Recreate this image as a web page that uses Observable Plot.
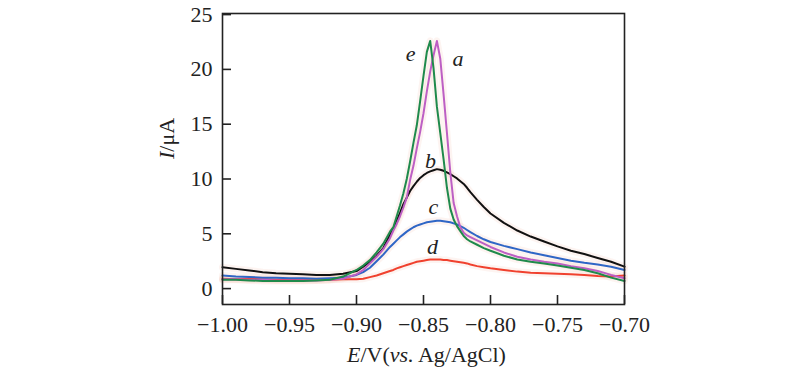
<!DOCTYPE html>
<html><head><meta charset="utf-8">
<script src="https://cdn.jsdelivr.net/npm/d3@7"></script>
<script src="https://cdn.jsdelivr.net/npm/@observablehq/plot@0.6"></script>
<style>body{margin:0;background:#fff}#chart svg{display:block}</style>
</head><body><div id="chart"></div>
<script>
// Potential grid (V vs. Ag/AgCl)
const potential = [-1.00,-0.99,-0.98,-0.97,-0.96,-0.95,-0.94,-0.93,-0.92,-0.91,-0.90,
 -0.895,-0.89,-0.885,-0.88,-0.875,
 -0.8725,-0.87,-0.8675,-0.865,-0.8625,-0.86,-0.8575,-0.855,-0.8525,-0.85,-0.8475,-0.845,-0.8425,-0.84,-0.8375,-0.835,-0.8325,-0.83,-0.8275,-0.825,-0.8225,-0.82,-0.8175,
 -0.815,-0.81,-0.805,-0.80,
 -0.79,-0.78,-0.77,-0.76,-0.75,-0.74,-0.73,-0.72,-0.71,-0.70];

// Currents (µA)
const curveA = [0.85,0.85,0.8,0.8,0.75,0.75,0.75,0.75,0.8,0.9,1.3,
 1.7,2.3,2.9,3.6,4.6,
 5.3,5.9,6.6,7.4,8.3,9.9,11.2,12.8,14.3,16.0,18.0,19.8,21.3,22.6,21.0,17.7,14.2,10.6,7.8,6.6,5.6,5.1,4.85,
 4.7,4.4,4.1,3.8,
 3.3,2.9,2.65,2.45,2.3,2.05,1.85,1.6,1.25,0.95];
const curveB = [1.95,1.8,1.65,1.5,1.4,1.35,1.3,1.25,1.25,1.35,1.6,
 2.0,2.45,3.0,3.7,4.9,
 5.5,6.2,6.9,7.7,8.3,8.9,9.35,9.75,10.1,10.35,10.55,10.7,10.8,10.9,10.85,10.75,10.6,10.45,10.25,10.05,9.8,9.55,9.2,
 8.8,8.1,7.45,6.85,
 6.0,5.3,4.75,4.3,3.85,3.45,3.15,2.8,2.45,2.0];
const curveC = [1.2,1.1,1.05,1.0,1.0,0.95,0.95,0.9,0.95,1.0,1.25,
 1.5,1.9,2.5,3.1,3.8,
 4.1,4.4,4.7,4.95,5.2,5.4,5.6,5.75,5.85,5.95,6.05,6.1,6.15,6.2,6.2,6.15,6.1,6.05,5.95,5.85,5.7,5.55,5.35,
 5.15,4.8,4.5,4.25,
 3.9,3.6,3.3,3.05,2.8,2.55,2.35,2.2,2.0,1.7];
const curveD = [0.9,0.85,0.9,0.85,0.8,0.8,0.8,0.8,0.8,0.85,0.85,
 0.9,1.05,1.2,1.4,1.6,
 1.7,1.85,1.95,2.05,2.15,2.25,2.35,2.45,2.5,2.55,2.6,2.65,2.65,2.65,2.65,2.6,2.6,2.55,2.5,2.45,2.4,2.35,2.3,
 2.2,2.05,1.95,1.85,
 1.7,1.55,1.45,1.4,1.35,1.3,1.25,1.15,1.1,1.2];
const curveE = [0.8,0.8,0.75,0.7,0.7,0.7,0.7,0.75,0.8,1.1,1.7,
 2.1,2.6,3.3,4.1,5.2,
 5.6,6.6,7.6,8.7,10.0,11.6,13.3,14.9,17.1,19.4,21.6,22.6,20.1,16.6,14.2,11.8,9.2,7.3,6.3,5.7,5.25,4.8,4.5,
 4.3,4.0,3.7,3.45,
 3.0,2.65,2.45,2.3,2.1,1.9,1.7,1.4,1.0,0.7];

const seriesNames = ["d","c","b","a","e"];
const seriesColors = ["#f0412e","#2f66c6","#111111","#bd5fc4","#1f8a4c"];
const seriesValues = [curveD, curveC, curveB, curveA, curveE];

const xTicks = [-1.00,-0.95,-0.90,-0.85,-0.80,-0.75,-0.70];
const yTicks = [0,5,10,15,20,25];

const labelText = ["e","a","b","c","d"];
const labelX = [-0.8597,-0.8243,-0.8448,-0.8426,-0.8433];
const labelY = [21.44,20.99,11.68,7.48,3.83];

const xTitle = "E/V(vs. Ag/AgCl)";
const yTitle = "I/μA";

const rows = [];
seriesNames.forEach((s, k) => {
  potential.forEach((e, i) => rows.push({E: e, I: seriesValues[k][i], s}));
});
const labels = labelText.map((t, i) => ({t, x: labelX[i], y: labelY[i]}));

const plot = Plot.plot({
  width: 800,
  height: 383,
  marginLeft: 222,
  marginRight: 176,
  marginTop: 13,
  marginBottom: 79,
  style: {fontFamily: "'Liberation Serif','Times New Roman',serif", fontSize: "22px", color: "#222", background: "#fff"},
  x: {domain: [-1.0, -0.7], label: null},
  y: {domain: [-1.45, 25.1], label: null},
  color: {domain: seriesNames, range: seriesColors},
  marks: [
    Plot.lineY(rows, {x: "E", y: "I", z: "s", stroke: "#f3c2b2", strokeWidth: 7, strokeOpacity: 0.18}),
    Plot.lineY(rows, {x: "E", y: "I", z: "s", stroke: "s", strokeWidth: 2}),
    Plot.frame({stroke: "#222", strokeWidth: 1.6}),
    Plot.axisX(xTicks, {tickSize: -9, tickPadding: 21, strokeWidth: 1.6, tickFormat: d3.format(".2f"), fontSize: 22, label: null}),
    Plot.axisY(yTicks, {tickSize: -9, tickPadding: 19, strokeWidth: 1.6, fontSize: 22, label: null}),
    Plot.text(labels, {x: "x", y: "y", text: "t", fontStyle: "italic", fontSize: 22, fill: "#222"}),
    Plot.text([xTitle], {frameAnchor: "bottom", dx: 3, dy: 57, text: d => d, fontSize: 22, fill: "#222"}),
    Plot.text([yTitle], {frameAnchor: "left", dx: -56, text: d => d, rotate: -90, fontSize: 22, fill: "#222"})
  ]
});
document.getElementById("chart").appendChild(plot);

// Italicize the variable symbols in the axis titles
const svg = d3.select(plot);
svg.selectAll("text").filter(function(){ return this.textContent === xTitle; }).each(function(){
  const t = d3.select(this); t.text(null);
  t.append("tspan").attr("font-style","italic").text("E");
  t.append("tspan").text("/V(");
  t.append("tspan").attr("font-style","italic").text("vs.");
  t.append("tspan").text(" Ag/AgCl)");
});
svg.selectAll("text").filter(function(){ return this.textContent === yTitle; }).each(function(){
  const t = d3.select(this); t.text(null);
  t.append("tspan").attr("font-style","italic").text("I");
  t.append("tspan").text("/μA");
});
</script>
</body></html>
